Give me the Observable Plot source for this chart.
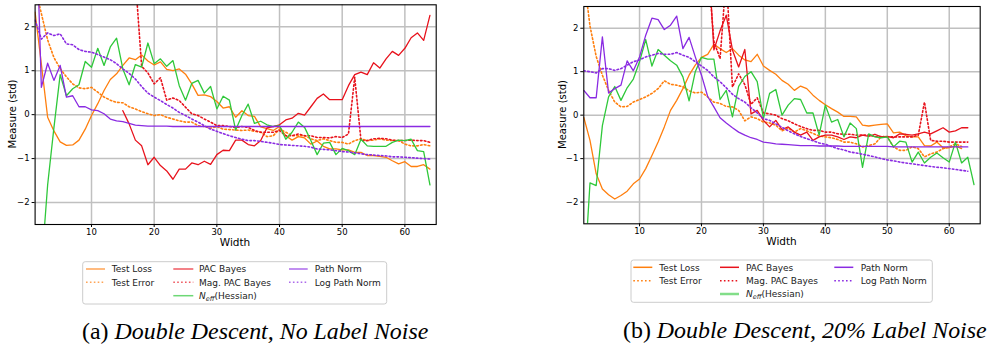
<!DOCTYPE html>
<html><head><meta charset="utf-8">
<script src="https://cdn.jsdelivr.net/npm/d3@7"></script>
<script src="https://cdn.jsdelivr.net/npm/@observablehq/plot@0.6"></script>
<style>
html,body{margin:0;padding:0;background:#fff;}
body{width:987px;height:345px;overflow:hidden;position:relative;font-family:"DejaVu Sans",sans-serif;}
.panel{position:absolute;top:0;z-index:0;}
#overlay{position:absolute;left:0;top:0;z-index:1;pointer-events:none;}
</style>
</head><body>
<div id="left" class="panel" style="left:0px"></div>
<div id="right" class="panel" style="left:540px"></div>
<svg id="overlay" width="987" height="345"></svg>
<script>
// ---------- data ----------
const widths = [1,2,3,4,5,6,7,8,9,10,11,12,13,14,15,16,17,18,19,20,21,22,23,24,25,26,27,28,29,30,31,32,
  33,34,35,36,37,38,39,40,41,42,43,44,45,46,47,48,49,50,51,52,53,54,55,56,57,58,59,60,61,62,63,64];
const xTicks = [10,20,30,40,50,60];
const yTicks = [-2,-1,0,1,2];
const legendLabels = ["Test Loss","Test Error","PAC Bayes","Mag. PAC Bayes","N_eff(Hessian)","Path Norm","Log Path Norm"];
const captions = ["(a) |Double Descent, No Label Noise", "(b) |Double Descent, 20% Label Noise"];

// (a) No label noise
const aTestLoss = [2.33,1.15,-0.06,-0.37,-0.62,-0.7,-0.69,-0.58, -0.33,-0.02,0.25,0.55,0.8,0.93,1.12,1.29,
  1.25,1.36,1.22,1.13,1.2,1.03,1.0,1.04, 0.92,0.7,0.44,0.45,0.41,0.3,0.15,0.18,
  -0.06,0.09,-0.02,-0.04,-0.28,-0.32,-0.36,-0.27, -0.48,-0.58,-0.5,-0.53,-0.67,-0.6,-0.72,-0.78,
  -0.78,-0.8,-0.8,-0.86,-0.86,-0.93,-0.93,-0.95, -0.97,-1.05,-1.12,-1.07,-1.18,-1.18,-1.14,-1.24];
const aTestError = [2.9,2.3,1.7,1.3,1.05,0.86,0.7,0.61, 0.59,0.62,0.51,0.4,0.33,0.28,0.27,0.18,
  0.13,0.07,0.02,-0.02,0.0,-0.06,-0.1,-0.14, -0.17,-0.17,-0.25,-0.27,-0.31,-0.27,-0.33,-0.34,
  -0.35,-0.36,-0.35,-0.38,-0.4,-0.5,-0.48,-0.33, -0.4,-0.48,-0.48,-0.48,-0.55,-0.59,-0.55,-0.59,
  -0.63,-0.63,-0.67,-0.59,-0.55,-0.59,-0.58,-0.55, -0.58,-0.59,-0.59,-0.67,-0.71,-0.71,-0.68,-0.71];
const aPacBayes = [null,null,null,null,null,null,null,null, null,null,null,null,null,null,0.09,-0.21,
  -0.58,-0.71,-1.14,-0.97,-1.16,-1.28,-1.47,-1.24, -1.24,-1.1,-1.14,-1.06,-1.13,-0.91,-0.81,-0.82,
  -0.58,-0.58,-0.68,-0.71,-0.59,-0.3,-0.27,-0.23, -0.12,-0.08,0.03,-0.01,0.18,0.37,0.47,0.34,
  0.34,0.34,0.66,0.91,0.97,0.91,1.18,1.06, 1.27,1.44,1.35,1.51,1.75,1.86,1.69,2.26];
const aMagPacBayes = [null,null,null,null,null,null,null,null, null,null,null,null,null,null,null,null,
  3.1,1.1,0.95,0.7,0.84,0.33,0.38,0.32, 0.17,0.02,-0.02,-0.1,-0.17,-0.25,-0.25,-0.27,
  -0.29,-0.27,-0.29,-0.36,-0.4,-0.4,-0.4,-0.36, -0.48,-0.48,-0.44,-0.48,-0.48,-0.52,-0.52,-0.53,
  -0.5,-0.52,-0.44,0.85,-0.59,-0.59,-0.55,-0.54, -0.55,-0.58,-0.59,-0.59,-0.58,-0.59,-0.59,-0.63];
const aNeff = [-4.0,-3.5,-1.6,-0.3,0.91,0.43,0.59,0.68, 1.21,1.08,1.51,1.12,1.54,1.74,1.04,0.68,
  1.14,1.08,1.63,1.16,1.27,1.1,1.23,0.66, 0.33,0.71,0.78,0.49,0.64,0.13,0.42,0.33,
  -0.35,-0.02,0.24,-0.2,-0.15,-0.23,-0.27,-0.25, -0.56,-0.4,-0.17,-0.29,-0.59,-0.91,-0.65,-0.63,
  -0.91,-0.77,-0.82,-0.91,-0.56,-0.71,-0.72,-0.72, -0.72,-0.63,-0.58,-0.59,-0.56,-0.82,-0.84,-1.6];
const aPathNorm = [5.3,0.62,1.17,0.78,1.12,0.4,0.43,0.18, 0.18,0.11,0.09,0.02,-0.1,-0.14,-0.16,-0.2,
  -0.24,-0.25,-0.26,-0.26,-0.26,-0.26,-0.27,-0.27, -0.27,-0.27,-0.27,-0.27,-0.27,-0.27,-0.27,-0.27,
  -0.27,-0.27,-0.27,-0.27,-0.27,-0.27,-0.27,-0.27, -0.27,-0.27,-0.27,-0.27,-0.27,-0.27,-0.27,-0.27,
  -0.27,-0.27,-0.27,-0.27,-0.27,-0.27,-0.27,-0.27, -0.27,-0.27,-0.27,-0.27,-0.27,-0.27,-0.27,-0.27];
const aLogPathNorm = [2.15,1.72,1.86,1.8,1.84,1.61,1.59,1.48, 1.44,1.42,1.37,1.31,1.25,1.16,1.04,0.94,
  0.81,0.64,0.49,0.4,0.32,0.23,0.15,0.05, -0.02,-0.1,-0.17,-0.25,-0.33,-0.38,-0.43,-0.48,
  -0.52,-0.56,-0.59,-0.59,-0.61,-0.63,-0.65,-0.68, -0.69,-0.7,-0.71,-0.72,-0.74,-0.78,-0.79,-0.8,
  -0.82,-0.84,-0.85,-0.87,-0.89,-0.91,-0.92,-0.93, -0.94,-0.96,-0.96,-0.97,-0.98,-0.99,-1.0,-1.01];

// (b) 20% label noise
const bTestLoss = [-0.05,-0.58,-1.35,-1.7,-1.83,-1.93,-1.85,-1.75, -1.58,-1.47,-1.23,-0.93,-0.62,-0.27,0.11,0.34,
  0.61,0.92,1.15,1.33,1.4,1.63,1.53,1.44, 1.53,1.38,1.27,1.23,1.4,1.13,1.03,0.94,
  0.8,0.71,0.57,0.67,0.61,0.46,0.34,0.24, 0.15,0.07,-0.03,-0.03,-0.04,-0.23,-0.25,-0.23,
  -0.21,-0.2,-0.41,-0.39,-0.47,-0.5,-0.5,-0.7, -0.71,-0.62,-0.75,-0.75,-0.71,-0.77,null,null];
const bTestError = [3.2,2.05,1.35,0.92,0.57,0.3,0.19,0.2, 0.3,0.36,0.42,0.5,0.61,0.79,0.71,0.69,
  0.65,0.56,0.51,0.53,0.42,0.3,0.27,0.2, 0.19,0.11,-0.13,-0.04,-0.08,-0.16,-0.18,-0.23,
  -0.36,-0.3,-0.39,-0.31,-0.36,-0.42,-0.48,-0.5, -0.52,-0.56,-0.62,-0.62,-0.66,-0.73,-0.7,-0.66,
  -0.5,-0.5,-0.73,-0.81,-0.81,-0.73,-0.77,-0.96, -0.89,-0.85,-0.77,-0.73,-0.66,-0.72,null,null];
const bPacBayes = [null,null,null,null,null,null,null,null, null,null,null,null,null,null,null,null,
  null,null,null,null,4.0,1.5,1.94,2.3, 1.5,1.11,1.51,0.03,0.11,-0.12,-0.27,-0.12,
  -0.33,-0.27,-0.39,-0.46,-0.39,-0.58,-0.5,-0.46, -0.46,-0.5,-0.56,-0.5,-0.52,-0.46,-0.49,-0.44,
  -0.5,-0.49,-0.52,-0.43,-0.44,-0.46,-0.43,-0.39, -0.43,-0.36,-0.29,-0.39,-0.36,-0.29,-0.29,null];
const bMagPacBayes = [null,null,null,null,null,null,null,null, null,null,null,null,null,null,null,null,
  null,null,null,null,3.5,1.7,1.3,3.2, 0.65,0.95,0.7,0.25,0.4,0.05,0.03,0.0,
  -0.08,-0.13,-0.2,-0.26,-0.31,-0.35,-0.35,-0.39, -0.39,-0.43,-0.44,-0.44,-0.46,-0.46,-0.46,-0.49,
  -0.49,-0.5,-0.5,-0.5,-0.5,-0.5,-0.46,0.3, -0.58,-0.6,-0.6,-0.62,-0.62,-0.62,-0.62,null];
const bNeff = [-3.9,-1.56,-1.62,-0.24,0.42,0.66,0.34,0.63, 0.83,1.23,1.74,1.13,1.51,1.38,1.25,1.15,
  0.88,0.33,1.0,1.33,1.29,1.29,0.36,0.57, -0.04,0.66,0.89,1.0,0.77,-0.08,0.5,0.59,
  0.0,0.23,0.38,0.36,0.05,0.05,-0.46,0.23, -0.16,-0.1,-0.5,-0.18,-0.31,-1.2,-0.43,-0.5,
  -0.52,-0.5,-0.73,-0.6,-0.62,-1.08,-0.85,-1.1, -0.97,-0.87,-0.98,-1.08,-0.62,-1.1,-0.97,-1.6];
const bPathNorm = [0.57,0.4,0.4,1.8,0.51,0.61,0.69,1.25, 1.02,1.34,1.84,2.23,2.2,1.97,2.07,2.28,
  1.53,1.79,1.34,0.92,0.43,0.19,-0.06,-0.18, -0.29,-0.39,-0.46,-0.52,-0.56,-0.62,-0.64,-0.66,
  -0.67,-0.68,-0.69,-0.7,-0.7,-0.7,-0.71,-0.71, -0.71,-0.71,-0.72,-0.72,-0.72,-0.72,-0.72,-0.72,
  -0.72,-0.72,-0.73,-0.73,-0.73,-0.73,-0.73,-0.73, -0.73,-0.73,-0.73,-0.73,-0.73,-0.73,-0.73,null];
const bLogPathNorm = [1.02,1.0,0.97,1.07,1.07,1.03,1.07,1.15, 1.23,1.27,1.34,1.38,1.42,1.4,1.4,1.44,
  1.38,1.33,1.23,1.13,1.03,0.88,0.77,0.63, 0.48,0.38,0.3,0.17,0.05,-0.08,-0.12,-0.2,
  -0.28,-0.36,-0.43,-0.49,-0.54,-0.59,-0.64,-0.67, -0.72,-0.77,-0.8,-0.85,-0.87,-0.9,-0.93,-0.96,
  -1.0,-1.03,-1.05,-1.08,-1.1,-1.12,-1.14,-1.16, -1.18,-1.2,-1.21,-1.23,-1.25,-1.27,-1.29,null];

// ---------- styles ----------
const ORANGE = "#ff7f0e", RED = "#e8121c", GREEN = "#2fc83a", PURPLE = "#8a2be2";
const DOT = "1.6,2.3";
const styles = [
  {color: ORANGE, dash: null},
  {color: ORANGE, dash: DOT},
  {color: RED, dash: null},
  {color: RED, dash: DOT},
  {color: GREEN, dash: null},
  {color: PURPLE, dash: null},
  {color: PURPLE, dash: DOT}
];
const drawOrder = [0,1,2,3,4,5,6];

function makePanel(series, g) {
  const marks = [
    Plot.gridX(xTicks, {stroke: "#c0c0c0", strokeOpacity: 1, strokeWidth: 1.5}),
    Plot.gridY(yTicks, {stroke: "#c0c0c0", strokeOpacity: 1, strokeWidth: 1.5})
  ];
  for (const k of drawOrder) {
    const vals = series[k], st = styles[k];
    marks.push(Plot.line(widths, {
      x: d => d, y: (d, i) => vals[i],
      stroke: st.color, strokeWidth: st.dash ? 1.6 : 1.3,
      strokeDasharray: st.dash || undefined,
      clip: true
    }));
  }
  marks.push(Plot.frame({stroke: "#000", strokeWidth: 1.1}));
  marks.push(Plot.axisX(xTicks, {tickSize: 3, tickPadding: 1.5, label: null, fontSize: 8.5}));
  marks.push(Plot.axisY(yTicks, {tickSize: 3, tickPadding: 2.5, label: null, fontSize: 8.5}));
  return Plot.plot({
    width: g.width, height: g.height,
    marginLeft: g.ml, marginRight: g.mr, marginTop: g.mt, marginBottom: g.mb,
    style: {fontFamily: "DejaVu Sans", fontSize: "8.5px", color: "#000", background: "transparent"},
    x: {domain: [1, 65]},
    y: {domain: [-2.5, 2.5]},
    marks
  });
}

document.getElementById("left").append(makePanel(
  [aTestLoss, aTestError, aPacBayes, aMagPacBayes, aNeff, aPathNorm, aLogPathNorm],
  {width: 440, height: 250, ml: 34.6, mr: 4.3, mt: 4.3, mb: 26}));
document.getElementById("right").append(makePanel(
  [bTestLoss, bTestError, bPacBayes, bMagPacBayes, bNeff, bPathNorm, bLogPathNorm],
  {width: 447, height: 250, ml: 43.3, mr: 7.3, mt: 6, mb: 26.7}));

// ---------- overlay: axis titles, legends, captions ----------
const ov = d3.select("#overlay");
function axisTitles(cx, by, ylx, lyc) {
  ov.append("text").attr("x", cx).attr("y", by).attr("text-anchor", "middle")
    .attr("font-family", "DejaVu Sans").attr("font-size", 10.5).attr("fill", "#000").text("Width");
  ov.append("text").attr("transform", `translate(${ylx},${lyc}) rotate(-90)`).attr("text-anchor", "middle")
    .attr("font-family", "DejaVu Sans").attr("font-size", 10).attr("fill", "#000").text("Measure (std)");
}
axisTitles(235, 245.5, 15.5, 114);
axisTitles(781.5, 245, 565.5, 114.5);

const legendCols = [[0,1],[2,3,4],[5,6]];
function legend(box, cols, rows, sampleOpacity) {
  ov.append("rect").attr("x", box.x).attr("y", box.y).attr("width", box.w).attr("height", box.h)
    .attr("rx", 2.5).attr("fill", "#fff").attr("stroke", "#cccccc").attr("stroke-width", 1);
  legendCols.forEach((col, ci) => {
    col.forEach((k, ri) => {
      const st = styles[k], y = rows[ri];
      ov.append("line").attr("x1", cols[ci].l0).attr("x2", cols[ci].l1).attr("y1", y).attr("y2", y)
        .attr("stroke", st.color).attr("stroke-width", k === 4 && sampleOpacity.neffWide ? 2.5 : 1.5)
        .attr("stroke-opacity", k === 4 ? sampleOpacity.neff : sampleOpacity.all)
        .attr("stroke-dasharray", st.dash);
      const t = ov.append("text").attr("x", cols[ci].t).attr("y", y + 3.2)
        .attr("font-family", "DejaVu Sans").attr("font-size", 9).attr("fill", "#222");
      const lab = legendLabels[k];
      if (lab.startsWith("N_eff")) {
        t.append("tspan").attr("font-style", "italic").text("N");
        t.append("tspan").attr("font-style", "italic").attr("font-size", 6.5).attr("dy", 2).text("eff");
        t.append("tspan").attr("dy", -2).text(lab.slice(5));
      } else t.text(lab);
    });
  });
}
legend({x: 82.7, y: 261.7, w: 304, h: 42.3},
  [{l0: 86, l1: 105, t: 111.7}, {l0: 173.3, l1: 193.3, t: 199}, {l0: 289, l1: 307.7, t: 314.7}],
  [269, 282.3, 295.7], {all: 0.7, neff: 0.7, neffWide: false});
legend({x: 631, y: 260, w: 301.3, h: 42.3},
  [{l0: 633.3, l1: 652.3, t: 659.3}, {l0: 720, l1: 739, t: 746}, {l0: 834.3, l1: 853.3, t: 860.7}],
  [267.3, 280.7, 294], {all: 1, neff: 0.6, neffWide: true});

function caption(x, y, s) {
  const [a, b] = s.split("|");
  const t = ov.append("text").attr("x", x).attr("y", y)
    .attr("font-family", "Liberation Serif, Times New Roman, serif").attr("font-size", 23.9).attr("fill", "#000");
  t.append("tspan").text(a);
  t.append("tspan").attr("font-style", "italic").text(b);
}
caption(82, 339, captions[0]);
caption(623, 338, captions[1]);
</script>
</body></html>
